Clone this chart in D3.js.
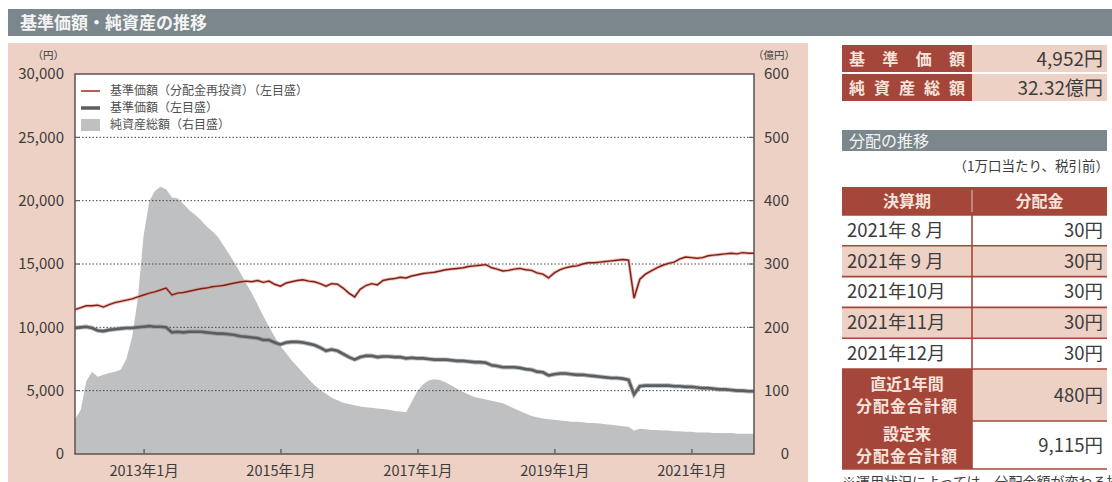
<!DOCTYPE html>
<html>
<head>
<meta charset="utf-8">
<script src="https://cdn.jsdelivr.net/npm/d3@7"></script>
<style>
body { margin: 0; background: #fff; }
svg { display: block; font-family: "Noto Sans CJK JP", "Noto Sans", sans-serif; }
</style>
</head>
<body>
<svg width="1112" height="482"></svg>
<script>
// 月次（2012年1月〜2021年12月）
var months = d3.timeMonth.range(new Date(2012, 0, 1), new Date(2022, 0, 1));

// 基準価額（分配金再投資）
var navReinvest = [
  11400, 11550, 11700, 11700, 11750, 11600, 11800, 11950, 12050, 12150, 12250, 12400,
  12550, 12700, 12800, 12950, 13100, 12550, 12700, 12750, 12850, 12950, 13050, 13100,
  13200, 13250, 13300, 13400, 13500, 13580, 13650, 13600, 13700, 13550, 13650, 13400,
  13250, 13500, 13600, 13700, 13750, 13650, 13600, 13450, 13250, 13450, 13400, 13100,
  12700, 12400, 13000, 13300, 13450, 13350, 13700, 13800, 13850, 13950, 13900, 14050,
  14150, 14250, 14300, 14350, 14450, 14550, 14600, 14650, 14700, 14800, 14850, 14900,
  14950, 14700, 14600, 14450, 14500, 14600, 14650, 14550, 14500, 14300, 14200, 13900,
  14300, 14550, 14700, 14800, 14850, 15000, 15100, 15100, 15150, 15200, 15250, 15300,
  15350, 15300, 12300, 13800, 14200, 14450, 14700, 14900, 15050, 15150, 15400, 15550,
  15500, 15450, 15500, 15650, 15700, 15750, 15800, 15850, 15800, 15900, 15850, 15850
];

// 基準価額
var nav = [
  9950, 10000, 10050, 9950, 9750, 9700, 9800, 9850, 9900, 9950, 9950, 10000,
  10050, 10100, 10050, 10050, 10000, 9600, 9650, 9600, 9650, 9650, 9650, 9600,
  9550, 9500, 9500, 9450, 9400, 9300, 9250, 9200, 9150, 9000, 9000, 8800,
  8650, 8800, 8850, 8850, 8800, 8700, 8600, 8400, 8150, 8250, 8150, 7900,
  7650, 7450, 7650, 7750, 7750, 7650, 7700, 7700, 7650, 7650, 7550, 7600,
  7550, 7550, 7500, 7450, 7450, 7450, 7400, 7350, 7350, 7300, 7250, 7250,
  7200, 7000, 6950, 6850, 6850, 6850, 6800, 6700, 6650, 6500, 6450, 6200,
  6300, 6350, 6350, 6300, 6250, 6250, 6200, 6150, 6100, 6050, 6000, 6000,
  5950, 5850, 4700, 5350, 5400, 5400, 5400, 5400, 5400, 5350, 5350, 5300,
  5300, 5250, 5200, 5200, 5150, 5100, 5100, 5050, 5000, 5000, 4950, 4950
];

// 純資産総額（億円）
var netAssets = [
  55, 70, 115, 130, 122, 125, 128, 130, 133, 150, 185, 245,
  345, 400, 415, 422, 418, 405, 404, 395, 385, 378, 370, 360,
  352, 343, 330, 316, 302, 286, 270, 254, 236, 218, 201, 185,
  170, 159, 148, 138, 128, 118, 109, 101, 95, 89, 85, 81,
  79, 77, 75, 74, 73, 72, 71, 70, 68, 67, 66, 82,
  100, 110, 116, 118, 117, 113, 108, 103, 98, 94, 90, 88,
  86, 84, 82, 80, 76, 72, 68, 64, 60, 58, 56, 55,
  54, 53, 52, 51, 51, 50, 49, 49, 48, 47, 46, 45,
  44, 43, 37, 40, 39, 38, 38, 37, 37, 36, 36, 35,
  35, 34, 34, 34, 33, 33, 33, 33, 32, 32, 32, 32
];

var leftTicks = [0, 5000, 10000, 15000, 20000, 25000, 30000];
var rightTicks = [0, 100, 200, 300, 400, 500, 600];
var xTickYears = [2013, 2015, 2017, 2019, 2021];

var legendNames = ['基準価額（分配金再投資）（左目盛）', '基準価額（左目盛）', '純資産総額（右目盛）'];

var summaryLabels = ['基準価額', '純資産総額'];
var summaryValues = ['4,952円', '32.32億円'];

var distPeriods = ['2021年 8 月', '2021年 9 月', '2021年10月', '2021年11月', '2021年12月'];
var distAmounts = ['30円', '30円', '30円', '30円', '30円'];
var totalLabels = [['直近1年間', '分配金合計額'], ['設定来', '分配金合計額']];
var totalValues = ['480円', '9,115円'];

var brown = '#a4473a',
    pink = '#ecd1c4',
    textCol = '#3c3c3c';

var svg = d3.select('svg');

// タイトルバー
svg.append('rect')
  .attr('x', 8).attr('y', 9)
  .attr('width', 1104).attr('height', 27)
  .attr('fill', '#7b878c');
svg.append('text')
  .attr('x', 20).attr('y', 29)
  .attr('font-size', 17)
  .attr('font-weight', 'bold')
  .attr('fill', '#f4f4f4')
  .text('基準価額・純資産の推移');

// チャート背景
svg.append('rect')
  .attr('x', 8).attr('y', 43)
  .attr('width', 800).attr('height', 440)
  .attr('fill', pink);

var pL = 75, pR = 754, pT = 74, pB = 454;

svg.append('rect')
  .attr('x', pL).attr('y', pT)
  .attr('width', pR - pL).attr('height', pB - pT)
  .attr('fill', '#fff');

var x = d3.scaleTime()
  .domain(d3.extent(months))
  .range([pL, pR]);
var yL = d3.scaleLinear().domain([0, 30000]).range([pB, pT]);
var yR = d3.scaleLinear().domain([0, 600]).range([pB, pT]);

// 純資産総額（面）
var area = d3.area()
  .x(function(d, i) { return x(months[i]); })
  .y0(pB)
  .y1(function(d) { return yR(d); });
svg.append('path')
  .attr('d', area(netAssets))
  .attr('fill', '#bfc0c2');

// グリッド
leftTicks.slice(1, -1).forEach(function(t) {
  svg.append('line')
    .attr('x1', pL).attr('x2', pR)
    .attr('y1', yL(t)).attr('y2', yL(t))
    .attr('stroke', '#444')
    .attr('stroke-width', 1)
    .attr('stroke-dasharray', '1.5,2');
  svg.append('line')
    .attr('x1', pL).attr('x2', pL + 5)
    .attr('y1', yL(t)).attr('y2', yL(t))
    .attr('stroke', '#555');
  svg.append('line')
    .attr('x1', pR - 5).attr('x2', pR)
    .attr('y1', yL(t)).attr('y2', yL(t))
    .attr('stroke', '#555');
});

// 線
var lineFunc = d3.line()
  .x(function(d, i) { return x(months[i]); })
  .y(function(d) { return yL(d); });

svg.append('path')
  .attr('d', lineFunc(nav))
  .attr('fill', 'none')
  .attr('stroke', '#8a8d90')
  .attr('stroke-width', 4.5)
  .attr('stroke-opacity', 0.6);
svg.append('path')
  .attr('d', lineFunc(nav))
  .attr('fill', 'none')
  .attr('stroke', '#5a5e61')
  .attr('stroke-width', 2.6);

svg.append('path')
  .attr('d', lineFunc(navReinvest))
  .attr('fill', 'none')
  .attr('stroke', '#e08a7c')
  .attr('stroke-width', 3.2)
  .attr('stroke-opacity', 0.6);
svg.append('path')
  .attr('d', lineFunc(navReinvest))
  .attr('fill', 'none')
  .attr('stroke', '#7c2219')
  .attr('stroke-width', 1.4);

// 枠
svg.append('rect')
  .attr('x', pL).attr('y', pT)
  .attr('width', pR - pL).attr('height', pB - pT)
  .attr('fill', 'none')
  .attr('stroke', '#5b5150')
  .attr('stroke-width', 1.5);

// X軸
var xTicks = xTickYears.map(function(yr) { return new Date(yr, 0, 1); });
var xAxis = svg.append('g')
  .attr('transform', 'translate(0,' + pB + ')')
  .call(d3.axisBottom(x)
    .tickValues(xTicks)
    .tickSize(-5)
    .tickPadding(12)
    .tickFormat(function(d) { return d.getFullYear() + '年' + (d.getMonth() + 1) + '月'; }));
xAxis.select('.domain').remove();
xAxis.selectAll('line').attr('stroke', '#666').attr('stroke-width', 1.5);
xAxis.selectAll('text')
  .attr('font-size', 14.5)
  .attr('fill', textCol)
  .attr('font-family', '"Noto Sans CJK JP", sans-serif');

// Y軸（左）
var yAxisL = svg.append('g')
  .attr('transform', 'translate(' + (pL - 8) + ',0)')
  .call(d3.axisLeft(yL).tickValues(leftTicks).tickSize(0).tickFormat(d3.format(',')));
yAxisL.select('.domain').remove();
yAxisL.selectAll('text')
  .attr('font-size', 15)
  .attr('fill', textCol)
  .attr('font-family', '"Noto Sans CJK JP", sans-serif');

// Y軸（右）
var yAxisR = svg.append('g')
  .attr('transform', 'translate(' + (pR + 38) + ',0)')
  .call(d3.axisLeft(yR).tickValues(rightTicks).tickSize(0));
yAxisR.select('.domain').remove();
yAxisR.selectAll('text')
  .attr('font-size', 15)
  .attr('fill', textCol)
  .attr('font-family', '"Noto Sans CJK JP", sans-serif');

svg.append('text')
  .attr('x', 64).attr('y', 59)
  .attr('text-anchor', 'end')
  .attr('font-size', 10.5)
  .attr('fill', textCol)
  .text('（円）');
svg.append('text')
  .attr('x', 795).attr('y', 59)
  .attr('text-anchor', 'end')
  .attr('font-size', 10.5)
  .attr('fill', textCol)
  .text('（億円）');

// 凡例
var legendY = [91, 108, 125];
svg.append('line')
  .attr('x1', 81).attr('x2', 100)
  .attr('y1', legendY[0]).attr('y2', legendY[0])
  .attr('stroke', '#a4392c').attr('stroke-width', 1.6);
svg.append('line')
  .attr('x1', 81).attr('x2', 100)
  .attr('y1', legendY[1]).attr('y2', legendY[1])
  .attr('stroke', '#5a5e61').attr('stroke-width', 3.5);
svg.append('rect')
  .attr('x', 81).attr('y', legendY[2] - 6)
  .attr('width', 19).attr('height', 12)
  .attr('fill', '#bfc0c2');
legendNames.forEach(function(name, i) {
  svg.append('text')
    .attr('x', 110).attr('y', legendY[i])
    .attr('dy', '0.35em')
    .attr('font-size', 12)
    .attr('fill', '#505050')
    .text(name);
});

// 右側：基準価額・純資産総額
var px = 842, pw = 265, split = 972;
summaryLabels.forEach(function(lab, i) {
  var ry = 45 + i * 29;
  svg.append('rect')
    .attr('x', px).attr('y', ry)
    .attr('width', split - px).attr('height', 27)
    .attr('fill', brown);
  svg.append('rect')
    .attr('x', split).attr('y', ry)
    .attr('width', px + pw - split).attr('height', 27)
    .attr('fill', pink);
  svg.append('text')
    .attr('x', px + 7).attr('y', ry + 14)
    .attr('dy', '0.35em')
    .attr('font-size', 16)
    .attr('font-weight', 'bold')
    .attr('fill', '#f6e4dc')
    .attr('textLength', 116)
    .attr('lengthAdjust', 'spacing')
    .text(lab);
  svg.append('text')
    .attr('x', px + pw - 4).attr('y', ry + 14)
    .attr('dy', '0.35em')
    .attr('text-anchor', 'end')
    .attr('font-size', 19)
    .attr('fill', textCol)
    .text(summaryValues[i]);
});

// 分配の推移
svg.append('rect')
  .attr('x', px).attr('y', 130)
  .attr('width', pw).attr('height', 21)
  .attr('fill', '#7b878c');
svg.append('text')
  .attr('x', px + 7).attr('y', 141)
  .attr('dy', '0.35em')
  .attr('font-size', 16)
  .attr('fill', '#f4f4f4')
  .text('分配の推移');
svg.append('text')
  .attr('x', px + pw + 2).attr('y', 166)
  .attr('dy', '0.35em')
  .attr('text-anchor', 'end')
  .attr('font-size', 13.5)
  .attr('fill', textCol)
  .text('（1万口当たり、税引前）');

// 表ヘッダ
svg.append('rect')
  .attr('x', px).attr('y', 187)
  .attr('width', pw).attr('height', 28)
  .attr('fill', brown);
svg.append('line')
  .attr('x1', split).attr('x2', split)
  .attr('y1', 190).attr('y2', 212)
  .attr('stroke', '#e6c5b8').attr('stroke-width', 1);
svg.append('text')
  .attr('x', (px + split) / 2).attr('y', 201)
  .attr('dy', '0.35em').attr('text-anchor', 'middle')
  .attr('font-size', 16).attr('font-weight', 'bold')
  .attr('fill', '#f6e4dc')
  .text('決算期');
svg.append('text')
  .attr('x', (split + px + pw) / 2).attr('y', 201)
  .attr('dy', '0.35em').attr('text-anchor', 'middle')
  .attr('font-size', 16).attr('font-weight', 'bold')
  .attr('fill', '#f6e4dc')
  .text('分配金');

// 表の行
var rowH = 30.8, rowTop = 215;
distPeriods.forEach(function(p, i) {
  var ry = rowTop + i * rowH;
  svg.append('rect')
    .attr('x', px).attr('y', ry)
    .attr('width', pw).attr('height', rowH)
    .attr('fill', i % 2 ? pink : '#fff');
  svg.append('text')
    .attr('x', px + 5).attr('y', ry + rowH / 2)
    .attr('dy', '0.35em')
    .attr('font-size', 18.5)
    .attr('fill', textCol)
    .attr('xml:space', 'preserve')
    .text(p);
  svg.append('text')
    .attr('x', px + pw - 4).attr('y', ry + rowH / 2)
    .attr('dy', '0.35em')
    .attr('text-anchor', 'end')
    .attr('font-size', 18.5)
    .attr('fill', textCol)
    .text(distAmounts[i]);
});

var totTop = rowTop + distPeriods.length * rowH;
var totH = [52, 48];
totalLabels.forEach(function(lines, i) {
  var ry = totTop + (i ? totH[0] : 0);
  svg.append('rect')
    .attr('x', px).attr('y', ry)
    .attr('width', split - px).attr('height', totH[i])
    .attr('fill', brown);
  svg.append('rect')
    .attr('x', split).attr('y', ry)
    .attr('width', px + pw - split).attr('height', totH[i])
    .attr('fill', i ? '#fff' : pink);
  lines.forEach(function(l, j) {
    svg.append('text')
      .attr('x', (px + split) / 2).attr('y', ry + totH[i] / 2 + (j ? 11 : -11))
      .attr('dy', '0.35em')
      .attr('text-anchor', 'middle')
      .attr('font-size', 16)
      .attr('font-weight', 'bold')
      .attr('fill', '#f6e4dc')
      .attr('letter-spacing', j ? 1 : 0)
      .text(l);
  });
  svg.append('text')
    .attr('x', px + pw - 4).attr('y', ry + totH[i] / 2 + 1)
    .attr('dy', '0.35em')
    .attr('text-anchor', 'end')
    .attr('font-size', 18.5)
    .attr('fill', textCol)
    .text(totalValues[i]);
});

// 罫線
var tableBottom = totTop + totH[0] + totH[1];
var rowLines = [];
for (var i = 0; i <= distPeriods.length; i++) rowLines.push(rowTop + i * rowH);
rowLines.push(totTop + totH[0], tableBottom);
rowLines.forEach(function(ly) {
  svg.append('line')
    .attr('x1', px).attr('x2', px + pw)
    .attr('y1', ly).attr('y2', ly)
    .attr('stroke', brown).attr('stroke-width', 1.6);
});
svg.append('line')
  .attr('x1', split).attr('x2', split)
  .attr('y1', rowTop).attr('y2', tableBottom)
  .attr('stroke', brown).attr('stroke-width', 1.6);

svg.append('text')
  .attr('x', px).attr('y', 487)
  .attr('font-size', 14)
  .attr('fill', textCol)
  .text('※運用状況によっては、分配金額が変わる場合、あるいは分配金が支払われない場合があります。');
</script>
</body>
</html>
